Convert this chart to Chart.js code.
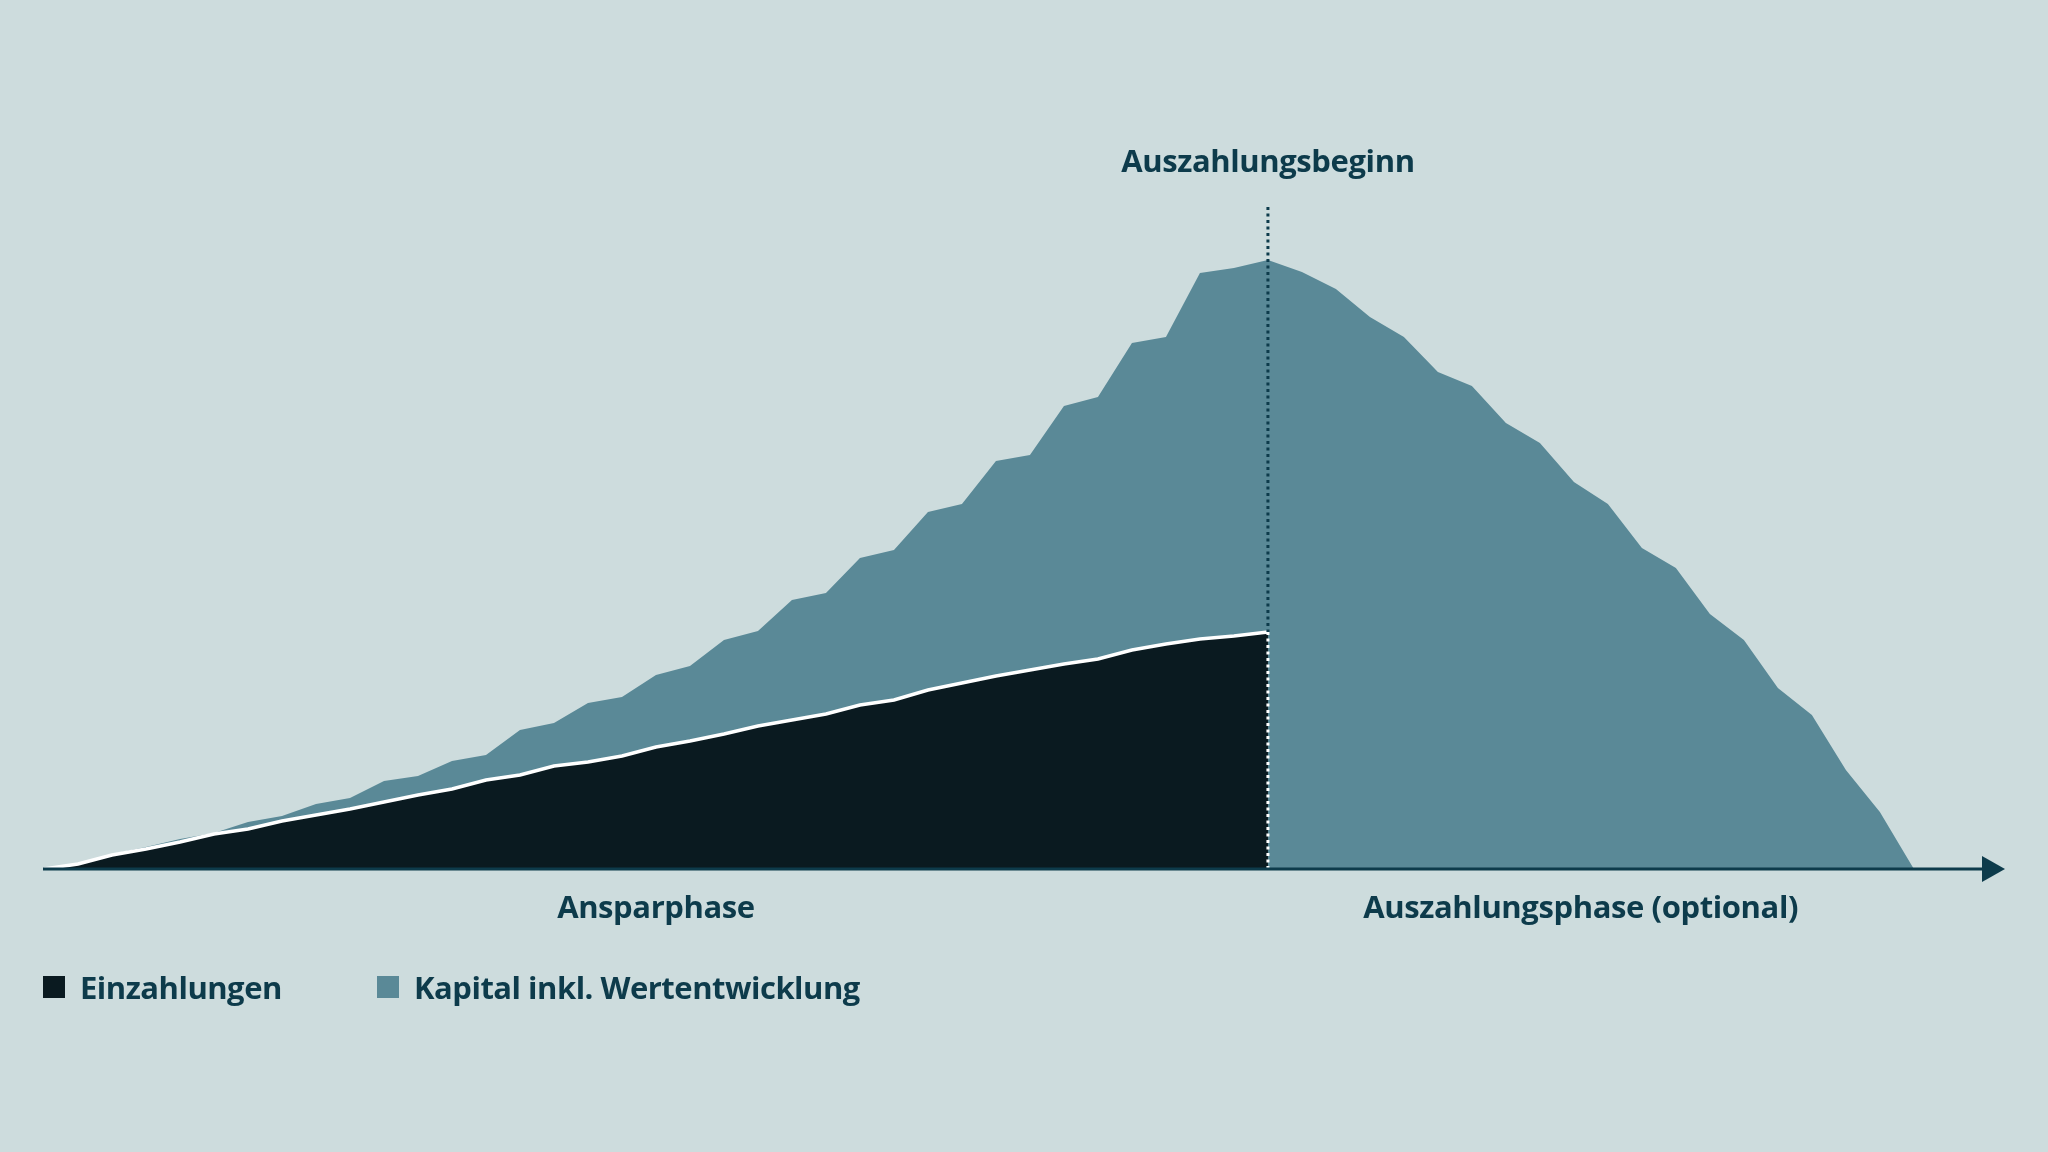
<!DOCTYPE html>
<html lang="de">
<head>
<meta charset="utf-8">
<title>Ansparphase und Auszahlungsphase</title>
<script src="https://cdn.jsdelivr.net/npm/chart.js@4.4.1/dist/chart.umd.min.js"></script>
<style>
  html, body { margin: 0; padding: 0; background: #cddcdd; }
  body { width: 2048px; height: 1152px; position: relative; overflow: hidden;
         font-family: "Open Sans", "Noto Sans", sans-serif; font-weight: 700; color: #0d3b4b; }
  #wrap { position: absolute; left: 0; top: 0; width: 2048px; height: 1152px; }
  .label { position: absolute; font-size: 31px; letter-spacing: -0.4px; line-height: 1; white-space: nowrap; transform: translateX(-50%); }
  .legend-item { position: absolute; top: 972px; font-size: 31px; letter-spacing: -0.5px; line-height: 1; white-space: nowrap; }
  .legend-item .box { position: absolute; left: 0; top: 4px; width: 22px; height: 22px; }
  .legend-item .txt { position: absolute; left: 37px; top: 0; }
</style>
</head>
<body>
<div id="wrap"><canvas id="chart"></canvas></div>
<div class="label" id="lbl-start" style="top:145px">Auszahlungsbeginn</div>
<div class="label" id="lbl-spar" style="top:891px">Ansparphase</div>
<div class="label" id="lbl-aus" style="top:891px">Auszahlungsphase (optional)</div>
<div class="legend-item" style="left:43px"><span class="box" style="background:#0a1a20"></span><span class="txt">Einzahlungen</span></div>
<div class="legend-item" style="left:377px"><span class="box" style="background:#5a8997"></span><span class="txt">Kapital inkl. Wertentwicklung</span></div>
<script>
// Jahre (Index der Zeitachse)
let jahre = [0, 1, 2, 3, 4, 5, 6, 7, 8, 9, 10, 11, 12, 13, 14, 15, 16, 17, 18, 19,
             20, 21, 22, 23, 24, 25, 26, 27, 28, 29, 30, 31, 32, 33, 34, 35, 36, 37, 38, 39,
             40, 41, 42, 43, 44, 45, 46, 47, 48, 49, 50, 51, 52, 53, 54, 55];

// Einzahlungen bis zum Auszahlungsbeginn
let einzahlungen = [0, 5, 14, 20, 27, 35, 40, 48, 54, 60, 67, 74, 80, 89, 94, 103, 107, 113, 122, 128,
                    135, 143, 149, 155, 164, 169, 179, 186, 193, 199, 205, 210, 219, 225, 230, 233, 237];

// Kapital inkl. Wertentwicklung
let kapital = [0, 5, 15, 22, 30, 36, 47, 53, 65, 71, 88, 93, 108, 114, 139, 146, 166, 172, 194, 203,
               229, 238, 269, 276, 311, 319, 357, 365, 408, 414, 463, 472, 526, 532, 596, 601, 609, 597, 580, 552,
               532, 497, 483, 446, 426, 387, 365, 321, 301, 255, 229, 181, 154, 99, 57, 0];

let auszahlungsbeginn = 36;
let mitteAnsparphase = 18;
let mitteAuszahlungsphase = 45.2;

let textColor = "#0d3b4b";

let einzahlungenPunkte = einzahlungen.map((v, i) => ({ x: jahre[i], y: v }));
let kapitalPunkte = kapital.map((v, i) => ({ x: jahre[i], y: v }));

// Achse mit Pfeil, gepunktete Linie und Beschriftungen
let annotations = {
    id: "annotations",
    afterDatasetsDraw(chart) {
        let ctx = chart.ctx;
        let area = chart.chartArea;
        let xs = chart.scales.x;
        let ys = chart.scales.y;
        let y0 = ys.getPixelForValue(0);
        let xStart = xs.getPixelForValue(auszahlungsbeginn);
        let yEin = ys.getPixelForValue(einzahlungen[auszahlungsbeginn]);

        ctx.save();
        // gepunktete Linie
        ctx.lineWidth = 3;
        ctx.setLineDash([3, 3.5]);
        ctx.strokeStyle = textColor;
        ctx.beginPath();
        ctx.moveTo(xStart, area.top + 138);
        ctx.lineTo(xStart, yEin);
        ctx.stroke();
        ctx.strokeStyle = "#ffffff";
        ctx.beginPath();
        ctx.moveTo(xStart, yEin);
        ctx.lineTo(xStart, y0);
        ctx.stroke();

        // x-Achse mit Pfeil
        ctx.setLineDash([]);
        ctx.strokeStyle = textColor;
        ctx.lineWidth = 3;
        ctx.beginPath();
        ctx.moveTo(area.left, y0);
        ctx.lineTo(area.right - 20, y0);
        ctx.stroke();
        ctx.fillStyle = textColor;
        ctx.beginPath();
        ctx.moveTo(area.right - 23, y0 - 13);
        ctx.lineTo(area.right, y0);
        ctx.lineTo(area.right - 23, y0 + 13);
        ctx.closePath();
        ctx.fill();
        ctx.restore();

        document.getElementById("lbl-start").style.left = xStart + "px";
        document.getElementById("lbl-spar").style.left = xs.getPixelForValue(mitteAnsparphase) + "px";
        document.getElementById("lbl-aus").style.left = xs.getPixelForValue(mitteAuszahlungsphase) + "px";
    }
};

let chart = new Chart(document.getElementById("chart"), {
    type: "line",
    data: {
        datasets: [
            {
                label: "Einzahlungen",
                data: einzahlungenPunkte,
                fill: "origin",
                backgroundColor: "#0a1a20",
                borderColor: "#ffffff",
                borderWidth: 3.5,
                pointRadius: 0,
                tension: 0,
                order: 1
            },
            {
                label: "Kapital inkl. Wertentwicklung",
                data: kapitalPunkte,
                fill: "origin",
                backgroundColor: "#5a8997",
                borderWidth: 0,
                pointRadius: 0,
                tension: 0,
                order: 2
            }
        ]
    },
    options: {
        responsive: true,
        maintainAspectRatio: false,
        animation: false,
        layout: {
            padding: { left: 43, right: 43, top: 69, bottom: 283 }
        },
        scales: {
            x: { type: "linear", min: -0.03, max: 57.68, display: false },
            y: { min: 0, max: 800, display: false }
        },
        plugins: {
            legend: { display: false },
            tooltip: { enabled: false }
        }
    },
    plugins: [annotations]
});
</script>
</body>
</html>
